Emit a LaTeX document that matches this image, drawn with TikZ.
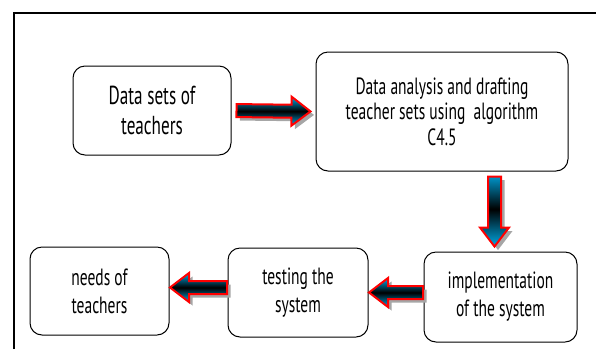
\documentclass[tikz,border=0pt]{standalone}
\usepackage{fontspec}
\setmainfont{PT Sans}[FakeStretch=0.66]
\usetikzlibrary{calc}
\definecolor{arrowblue}{RGB}{0,170,230}

\begin{document}
\begin{tikzpicture}[x=1pt, y=-1pt]
			    \tikzstyle{box}=[draw, line width=1pt, rounded corners=12pt, align=center, inner sep=0pt, font=\fontsize{23.5}{28}\selectfont]
			    \tikzstyle{flow}[1pt]=[draw=red, line width=2pt, top color=arrowblue, bottom color=arrowblue, middle color=black,
			        preaction={fill=black!35, transform canvas={shift={(3.5pt,-3.5pt)}}},
			        to path={
			            ($(\tikztostart)!#1!(\tikztotarget)!6.5pt!90:(\tikztotarget)$)
			            -- ($(\tikztotarget)!{#1+19pt}!(\tikztostart)!6.5pt!-90:(\tikztostart)$)
			            -- ($(\tikztotarget)!{#1+19pt}!(\tikztostart)!14.5pt!-90:(\tikztostart)$)
			            -- ($(\tikztotarget)!#1!(\tikztostart)$)
			            -- ($(\tikztotarget)!{#1+19pt}!(\tikztostart)!14.5pt!90:(\tikztostart)$)
			            -- ($(\tikztotarget)!{#1+19pt}!(\tikztostart)!6.5pt!90:(\tikztostart)$)
			            -- ($(\tikztostart)!#1!(\tikztotarget)!6.5pt!-90:(\tikztotarget)$) -- cycle}]
			    \useasboundingbox (0,0) rectangle (596,349);
			    % open frame
			    \draw[line width=1.2pt] (14,349) -- (14,13) -- (596,13);
			    % boxes
			    \node[box, minimum width=158, minimum height=89, font=\fontsize{26}{30}\selectfont] (datasets) at (152,110.5) {Data sets of\\teachers};
			    \node[box, minimum width=252, minimum height=119, font=\fontsize{23.5}{25.5}\selectfont] (analysis) at (442,111.5) {Data analysis and drafting\\teacher sets using~ algorithm\\C4.5};
			    \node[box, minimum width=153, minimum height=90] (impl) at (500.5,297) {implementation\\of the system};
			    \node[box, minimum width=140, minimum height=89] (testing) at (298,292.5) {testing the\\system};
			    \node[box, minimum width=139, minimum height=88] (needs) at (99.5,291) {needs of\\teachers};
			    % arrows
			    \coordinate (tw) at ([yshift=5pt]testing.west);
			    \draw[flow=5pt] (datasets.east) to (analysis.west);
			    \draw[flow=5pt] ([xshift=-6pt]impl.north |- analysis.south) to ([xshift=-6pt]impl.north);
			    \draw[flow=0.5pt] (impl.west |- testing.east) to (testing.east);
			    \draw[flow=0.5pt] (tw) to (tw -| needs.east);
			\end{tikzpicture}
\end{document}
